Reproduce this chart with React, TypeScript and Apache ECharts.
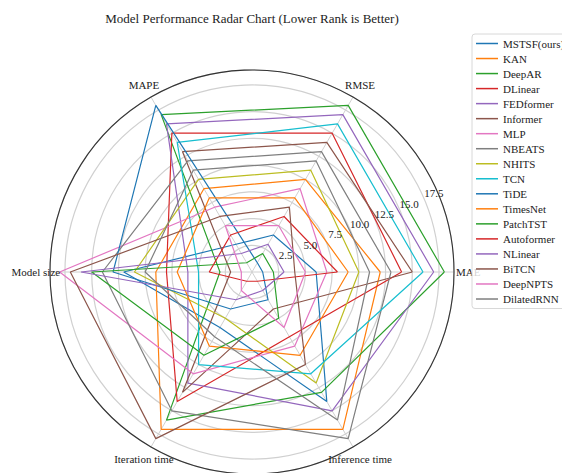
import React, { useEffect, useRef } from "react";
import * as echarts from "echarts";

// Radar axes, counter-clockwise from the right-hand side
const metrics = ["MAE", "RMSE", "MAPE", "Model size", "Iteration time", "Inference time"];
const metricAngles = [0, 60, 120, 180, 240, 300];
const rTicks = [2.5, 5.0, 7.5, 10.0, 12.5, 15.0, 17.5];
const rMax = 18.9;

const models = [
  "MSTSF(ours)", "KAN", "DeepAR", "DLinear", "FEDformer", "Informer", "MLP", "NBEATS", "NHITS",
  "TCN", "TiDE", "TimesNet", "PatchTST", "Autoformer", "NLinear", "BiTCN", "DeepNPTS", "DilatedRNN",
];

// Rank of each model on MAE, RMSE, MAPE, Model size, Iteration time, Inference time
const mstsf = [6, 4, 3, 12, 6, 14];
const kan = [12, 10, 9, 9, 17, 17];
const deepar = [18, 18, 17, 3, 16, 13];
const dlinear = [14, 15, 15, 8, 14, 7];
const fedformer = [17, 17, 16, 6, 12, 15];
const informer = [15, 14, 13, 2, 13, 4];
const mlp = [7, 9, 7, 18, 11, 8];
const nbeats = [13, 13, 12, 14, 15, 18];
const nhits = [10, 11, 10, 11, 5, 12];
const tcn = [16, 16, 14, 5, 10, 11];
const tide = [1, 1, 18, 13, 4, 3];
const timesnet = [9, 8, 8, 7, 8, 9];
const patchtst = [2, 2, 1, 15, 9, 5];
const autoformer = [8, 6, 4, 4, 1, 1];
const nlinear = [3, 3, 2, 16, 3, 2];
const bitcn = [4, 7, 6, 17, 18, 10];
const deepnpts = [5, 5, 5, 1, 2, 6];
const dilatedrnn = [11, 12, 11, 10, 7, 16];

const ranks = [
  mstsf, kan, deepar, dlinear, fedformer, informer, mlp, nbeats, nhits,
  tcn, tide, timesnet, patchtst, autoformer, nlinear, bitcn, deepnpts, dilatedrnn,
];

const palette = [
  "#1f77b4", "#ff7f0e", "#2ca02c", "#d62728", "#9467bd",
  "#8c564b", "#e377c2", "#7f7f7f", "#bcbd22", "#17becf",
];

const title = "Model Performance Radar Chart (Lower Rank is Better)";
const FONT = "'Liberation Serif', 'Times New Roman', serif";

const W = 562;
const H = 473;
const CX = 252;
const CY = 272;
const R = 202;

export default function App() {
  const ref = useRef<HTMLDivElement>(null);

  useEffect(() => {
    if (!ref.current) return;
    const chart = echarts.init(ref.current, undefined, { renderer: "svg" });

    const series = models.map((name, i) => {
      const vals = ranks[i];
      const pts = vals.map((v, k) => [v, metricAngles[k]]);
      pts.push([vals[0], 360]);
      const color = palette[i % palette.length];
      return {
        name,
        type: "line",
        coordinateSystem: "polar",
        polarIndex: 0,
        data: pts,
        symbol: "none",
        lineStyle: { width: 1.2, color },
        itemStyle: { color },
        silent: true,
        z: 3,
      };
    });

    chart.setOption({
      animation: false,
      backgroundColor: "#ffffff",
      textStyle: { fontFamily: FONT },
      polar: [
        { center: [CX, CY], radius: R },
        { center: [CX, CY], radius: R },
      ],
      angleAxis: [
        {
          polarIndex: 0,
          type: "value",
          min: 0,
          max: 360,
          interval: 60,
          startAngle: 0,
          clockwise: false,
          axisLine: { show: true, lineStyle: { color: "#333", width: 1.1 } },
          axisTick: { show: false },
          axisLabel: { show: false },
          splitLine: { show: true, lineStyle: { color: "#d0d0d0", width: 1 } },
        },
        {
          polarIndex: 1,
          type: "value",
          min: 0,
          max: 360,
          startAngle: 22.5,
          clockwise: false,
          show: false,
        },
      ],
      radiusAxis: [
        {
          polarIndex: 0,
          type: "value",
          min: 0,
          max: rMax,
          interval: 2.5,
          axisLine: { show: false },
          axisTick: { show: false },
          axisLabel: { show: false },
          splitLine: { show: true, lineStyle: { color: "#d0d0d0", width: 1.2 } },
        },
        {
          polarIndex: 1,
          type: "value",
          min: 0,
          max: rMax,
          show: false,
        },
      ],
      legend: {
        orient: "vertical",
        left: 472,
        top: 34,
        z: 20,
        icon: "path://M0,0L22,0L22,1.5L0,1.5Z",
        itemWidth: 22,
        itemHeight: 12,
        itemGap: 4.03,
        padding: [4, 6, 4, 4],
        backgroundColor: "rgba(255,255,255,0.8)",
        borderColor: "#d8d8d8",
        borderWidth: 1,
        borderRadius: 3,
        textStyle: { fontFamily: FONT, fontSize: 11, color: "#222" },
        data: models,
      },
      series,
    });

    // Axis names and radial tick labels placed through the polar scale
    const toPx = (r: number, a: number) =>
      chart.convertToPixel({ polarIndex: 0 } as any, [r, a]) as number[];
    const graphics: any[] = [
      {
        type: "text",
        x: CX,
        y: 18,
        style: {
          text: title,
          fontFamily: FONT,
          fontSize: 13,
          fill: "#222",
          align: "center",
          verticalAlign: "middle",
        },
      },
    ];
    metrics.forEach((m, k) => {
      const p = toPx(rMax * 1.07, metricAngles[k]);
      graphics.push({
        type: "text",
        x: p[0],
        y: p[1],
        z: 5,
        style: {
          text: m,
          fontFamily: FONT,
          fontSize: 11,
          fill: "#222",
          align: "center",
          verticalAlign: "middle",
        },
      });
    });
    rTicks.forEach((t) => {
      const p = toPx(t, 22.5);
      graphics.push({
        type: "text",
        x: p[0] + 9,
        y: p[1] - 7,
        z: 5,
        style: {
          text: t.toFixed(1),
          fontFamily: FONT,
          fontSize: 11,
          fill: "#222",
          align: "center",
          verticalAlign: "middle",
        },
      });
    });
    chart.setOption({ graphic: graphics });

    return () => chart.dispose();
  }, []);

  return (
    <div
      ref={ref}
      style={{ position: "absolute", left: 0, top: 0, width: W, height: H, background: "#fff" }}
    />
  );
}
